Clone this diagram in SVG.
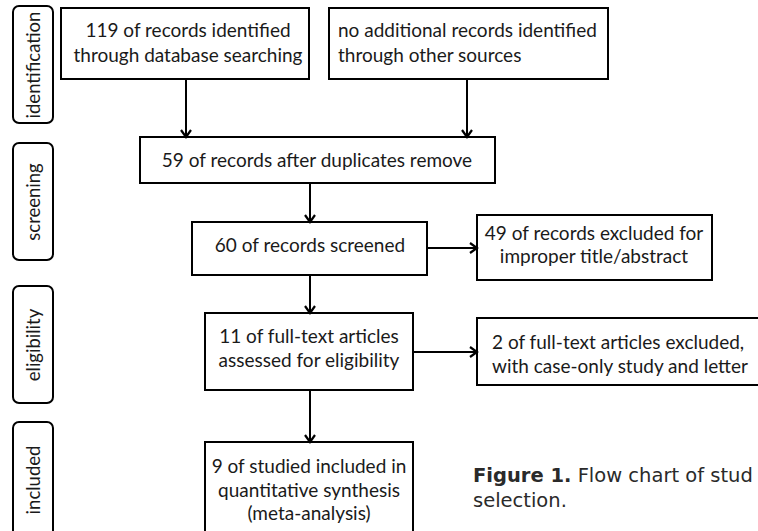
<svg xmlns="http://www.w3.org/2000/svg" width="758" height="531" viewBox="0 0 758 531">
<style>
.box{fill:#fff;stroke:#000;stroke-width:2}
.side{fill:#fff;stroke:#000;stroke-width:2}
.t{font-family:Lato,"Open Sans",sans-serif;font-size:19px;fill:#1a1a1a}
.c{text-anchor:middle}
.s{font-family:Lato,"Open Sans",sans-serif;font-size:18.5px;fill:#1a1a1a;text-anchor:middle}
.cap{font-family:"DejaVu Sans",sans-serif;font-size:19.5px;fill:#2a2a2a}
.conn line{stroke:#000;stroke-width:2;marker-end:url(#ah)}
</style>
<defs>
<marker id="ah" markerWidth="12" markerHeight="12" refX="10" refY="6" orient="auto" markerUnits="userSpaceOnUse">
<path d="M3,1 L10,6 L3,11" fill="none" stroke="#000" stroke-width="2.2"/>
</marker>
</defs>
<rect width="758" height="531" fill="#fff"/>
<g id="stage-identification"><rect class="side" x="13" y="6" width="40" height="117" rx="6"/><text class="s" transform="translate(40,65) rotate(-90)">identification</text></g>
<g id="stage-screening"><rect class="side" x="13" y="143" width="40" height="117" rx="6"/><text class="s" transform="translate(40,202) rotate(-90)">screening</text></g>
<g id="stage-eligibility"><rect class="side" x="13" y="286" width="40" height="117" rx="6"/><text class="s" transform="translate(40,345) rotate(-90)">eligibility</text></g>
<g id="stage-included"><rect class="side" x="13" y="422" width="40" height="130" rx="6"/><text class="s" transform="translate(40,480) rotate(-90)">included</text></g>
<g id="n1"><rect class="box" x="61" y="8" width="248" height="71"/><text class="t c" x="188" y="37">119 of records identified</text><text class="t c" x="188" y="62">through database searching</text></g>
<g id="n2"><rect class="box" x="329" y="8" width="279" height="71"/><text class="t" x="338" y="37">no additional records identified</text><text class="t" x="338" y="62">through other sources</text></g>
<g id="n3"><rect class="box" x="140" y="137" width="355" height="46"/><text class="t c" x="317" y="167">59 of records after duplicates remove</text></g>
<g id="n4"><rect class="box" x="192" y="222" width="235" height="53"/><text class="t c" x="310" y="252">60 of records screened</text></g>
<g id="n5"><rect class="box" x="477" y="215" width="235" height="65"/><text class="t c" x="594" y="240">49 of records excluded for</text><text class="t c" x="594" y="263">improper title/abstract</text></g>
<g id="n6"><rect class="box" x="205" y="313" width="208" height="77"/><text class="t c" x="309" y="343">11 of full-text articles</text><text class="t c" x="309" y="367">assessed for eligibility</text></g>
<g id="n7"><rect class="box" x="477" y="318" width="290" height="67"/><text class="t" x="492" y="349">2 of full-text articles excluded,</text><text class="t" x="492" y="373">with case-only study and letter</text></g>
<g id="n8"><rect class="box" x="205" y="442" width="208" height="100"/><text class="t c" x="309" y="473">9 of studied included in</text><text class="t c" x="309" y="497">quantitative synthesis</text><text class="t c" x="309" y="520">(meta-analysis)</text></g>
<g id="connectors" class="conn">
<line x1="186" y1="79" x2="186" y2="137"/>
<line x1="467" y1="79" x2="467" y2="137"/>
<line x1="310" y1="183" x2="310" y2="222"/>
<line x1="427" y1="248" x2="477" y2="248"/>
<line x1="310" y1="275" x2="310" y2="313"/>
<line x1="413" y1="352" x2="477" y2="352"/>
<line x1="310" y1="390" x2="310" y2="442"/>
</g>
<g id="caption"><text class="cap" x="473" y="482"><tspan font-weight="bold">Figure 1.</tspan> Flow chart of stud</text><text class="cap" x="473" y="507">selection.</text></g>
</svg>
